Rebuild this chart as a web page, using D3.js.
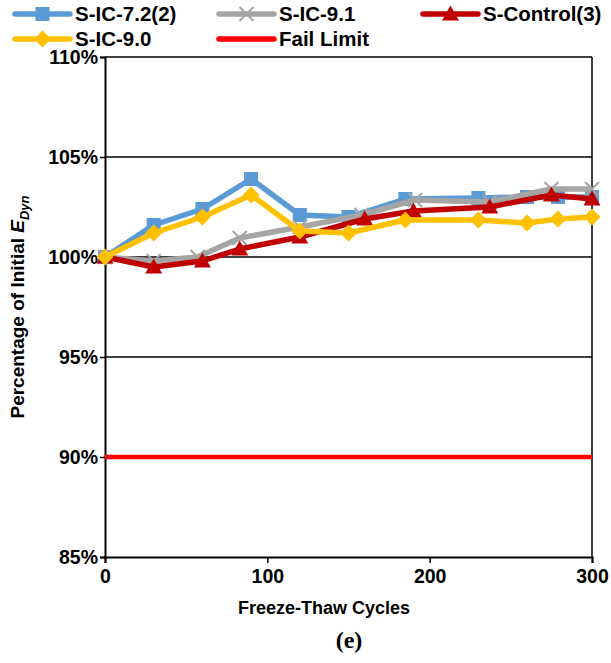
<!DOCTYPE html>
<html><head><meta charset="utf-8">
<script src="https://cdn.jsdelivr.net/npm/d3@7"></script>
<style>body{margin:0;background:#fff}svg{display:block}text{font-family:"Liberation Sans",Arial,sans-serif;font-weight:bold;fill:#000}</style>
</head><body>
<svg id="c" width="611" height="663"></svg>
<script>
// ---- data ----
const blueX   = [0,30,60,90,120,150,185,230,260,279,300];
const blueY   = [100,101.6,102.4,103.9,102.1,102.0,102.9,102.95,103.0,103.0,103.0];
const grayX   = [0,30,57,83,120,158,191,237,275,300];
const grayY   = [100,99.8,100.0,100.95,101.5,102.1,102.85,102.75,103.4,103.4];
const redX    = [0,30,60,83,120,160,190,237,275,300];
const redY    = [100,99.5,99.8,100.4,101.0,101.9,102.3,102.5,103.1,102.9];
const yellowX = [0,30,60,90,120,150,185,230,260,279,300];
const yellowY = [100,101.2,102.0,103.1,101.3,101.2,101.85,101.85,101.7,101.9,102.0];
const failX   = [0,300];
const failY   = [90,90];
const xTicks  = [0,100,200,300];
const yTicks  = [85,90,95,100,105,110];
const seriesNames = ["S-IC-7.2(2)","S-IC-9.1","S-Control(3)","S-IC-9.0","Fail Limit"];

const svg = d3.select("#c");
const L=105,R=592,T=57,B=557;
const x = d3.scaleLinear().domain([0,300]).range([L,R]);
const y = d3.scaleLinear().domain([85,110]).range([B,T]);

// gridlines
svg.append("g").selectAll("line").data(yTicks.filter(v=>v>85)).join("line")
  .attr("x1",L).attr("x2",R).attr("y1",d=>y(d)).attr("y2",d=>y(d))
  .attr("stroke","#000").attr("stroke-width",1.5);
svg.append("line").attr("x1",R).attr("x2",R).attr("y1",T).attr("y2",B).attr("stroke","#000").attr("stroke-width",1.5);

// axes
const yAxis = d3.axisLeft(y).tickValues(yTicks).tickFormat(d=>d+"%").tickSize(5).tickPadding(3);
const gy = svg.append("g").attr("transform",`translate(${L},0)`).call(yAxis);
const xAxis = d3.axisBottom(x).tickValues(xTicks).tickSize(6).tickPadding(6);
const gx = svg.append("g").attr("transform",`translate(0,${B})`).call(xAxis);
[gy,gx].forEach(g=>{
  g.select(".domain").attr("stroke","#000").attr("stroke-width",2);
  g.selectAll(".tick line").attr("stroke","#000").attr("stroke-width",1.5);
  g.selectAll(".tick text").attr("font-size",19.5).attr("font-family",'"Liberation Sans",Arial,sans-serif').attr("font-weight","bold").attr("fill","#000");
});
gy.selectAll(".tick text").attr("x",-7);

// series
const series = [
  {name:seriesNames[0],xs:blueX,ys:blueY,color:"#5B9BD5",marker:"square"},
  {name:seriesNames[1],xs:grayX,ys:grayY,color:"#A5A5A5",marker:"x"},
  {name:seriesNames[2],xs:redX,ys:redY,color:"#C00000",marker:"triangle"},
  {name:seriesNames[3],xs:yellowX,ys:yellowY,color:"#FFC000",marker:"diamond"},
  {name:seriesNames[4],xs:failX,ys:failY,color:"#FF0000",marker:null}
];
const line = d3.line().x(d=>x(d[0])).y(d=>y(d[1]));
function drawMarker(g,type,cx,cy,color){
  if(type==="square"){
    g.append("rect").attr("x",cx-7).attr("y",cy-7).attr("width",14).attr("height",14).attr("fill",color);
  } else if(type==="diamond"){
    g.append("path").attr("d",`M${cx},${cy-8.5}L${cx+8.5},${cy}L${cx},${cy+8.5}L${cx-8.5},${cy}Z`).attr("fill",color);
  } else if(type==="triangle"){
    g.append("path").attr("d",`M${cx},${cy-8.5}L${cx+8.5},${cy+6.5}L${cx-8.5},${cy+6.5}Z`).attr("fill",color);
  } else if(type==="x"){
    g.append("path").attr("d",`M${cx-7},${cy-7}L${cx+7},${cy+7}M${cx-7},${cy+7}L${cx+7},${cy-7}`).attr("stroke",color).attr("stroke-width",2);
  }
}
series.forEach(s=>{
  const pts = s.xs.map((v,i)=>[v,s.ys[i]]);
  const g = svg.append("g");
  g.append("path").datum(pts).attr("d",line).attr("fill","none").attr("stroke",s.color)
    .attr("stroke-width",s.marker?5.5:4.5).attr("stroke-linejoin","round");
  if(s.marker) pts.forEach(p=>drawMarker(g,s.marker,x(p[0]),y(p[1]),s.color));
});

// legend
const legPos = [[15,14],[219,14],[423,14],[15,39],[219,39]];
series.forEach((s,i)=>{
  const [lx,ly]=legPos[i];
  const g = svg.append("g");
  g.append("line").attr("x1",lx).attr("x2",lx+55).attr("y1",ly).attr("y2",ly).attr("stroke",s.color).attr("stroke-width",5.5).attr("stroke-linecap","round");
  if(s.marker) drawMarker(g,s.marker,lx+27.5,ly,s.color);
  g.append("text").attr("x",lx+60).attr("y",ly+7).attr("font-size",20.5).text(s.name);
});

// axis titles
svg.append("text").attr("x",324).attr("y",614).attr("text-anchor","middle").attr("font-size",18).text("Freeze-Thaw Cycles");
const yt = svg.append("text").attr("transform",`translate(24,${(T+B)/2}) rotate(-90)`).attr("text-anchor","middle").attr("font-size",19);
yt.append("tspan").text("Percentage of Initial ");
yt.append("tspan").attr("font-style","italic").text("E");
yt.append("tspan").attr("font-style","italic").attr("font-size",13).attr("dy",5).text("Dyn");
svg.append("text").attr("x",349).attr("y",648).attr("text-anchor","middle").attr("font-size",24)
  .style("font-family",'"Liberation Serif","Times New Roman",serif').text("(e)");
</script>
</body></html>
